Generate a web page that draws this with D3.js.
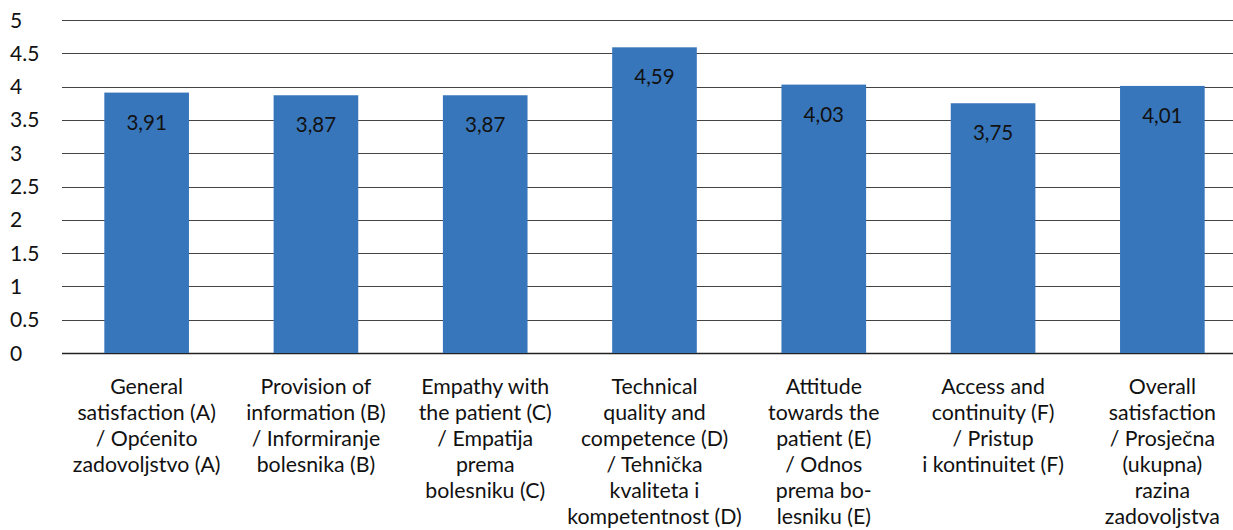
<!DOCTYPE html>
<html>
<head>
<meta charset="utf-8">
<script src="https://cdn.jsdelivr.net/npm/d3@7"></script>
<style>
  html, body { margin: 0; padding: 0; background: #fff; }
  svg { display: block; font-family: Lato, "Open Sans", sans-serif; }
</style>
</head>
<body>
<svg id="chart" width="1233" height="530"></svg>
<script>
// Satisfaction dimensions, each label split into its printed lines
const categories = [
  ["General", "satisfaction (A)", "/ Općenito", "zadovoljstvo (A)"],
  ["Provision of", "information (B)", "/ Informiranje", "bolesnika (B)"],
  ["Empathy with", "the patient (C)", "/ Empatija", "prema", "bolesniku (C)"],
  ["Technical", "quality and", "competence (D)", "/ Tehnička", "kvaliteta i", "kompetentnost (D)"],
  ["Attitude", "towards the", "patient (E)", "/ Odnos", "prema bo-", "lesniku (E)"],
  ["Access and", "continuity (F)", "/ Pristup", "i kontinuitet (F)"],
  ["Overall", "satisfaction", "/ Prosječna", "(ukupna)", "razina", "zadovoljstva"]
];
const values = [3.91, 3.87, 3.87, 4.59, 4.03, 3.75, 4.01];
const yTicks = [0, 0.5, 1, 1.5, 2, 2.5, 3, 3.5, 4, 4.5, 5];

const svg = d3.select("#chart");
const plot = { left: 62, right: 1247, top: 20, bottom: 353 };

const x = d3.scaleBand()
  .domain(d3.range(categories.length))
  .range([plot.left, plot.right])
  .paddingInner(0.5)
  .paddingOuter(0.25);

const y = d3.scaleLinear().domain([0, 5]).range([plot.bottom, plot.top]);

// horizontal gridlines
svg.append("g")
  .selectAll("line")
  .data(yTicks)
  .join("line")
  .attr("x1", plot.left)
  .attr("x2", 1233)
  .attr("y1", d => Math.round(y(d)) + 0.5)
  .attr("y2", d => Math.round(y(d)) + 0.5)
  .attr("stroke", d => d === 0 ? "#222" : "#444")
  .attr("stroke-width", d => d === 0 ? 1.5 : 1);

// y tick labels, left aligned
const fmtTick = d => String(d);
svg.append("g")
  .selectAll("text")
  .data(yTicks)
  .join("text")
  .attr("x", 10)
  .attr("y", d => y(d) + 7.5)
  .attr("font-size", 21)
  .attr("fill", "#111")
  .text(fmtTick);

// bars
svg.append("g")
  .selectAll("rect")
  .data(values)
  .join("rect")
  .attr("x", (d, i) => x(i))
  .attr("width", x.bandwidth())
  .attr("y", d => y(d))
  .attr("height", d => y(0) - y(d))
  .attr("fill", "#3876bb");

// value labels inside bars, decimal comma
const fmtVal = d => d.toFixed(2).replace(".", ",");
svg.append("g")
  .selectAll("text")
  .data(values)
  .join("text")
  .attr("x", (d, i) => x(i) + x.bandwidth() / 2)
  .attr("y", d => y(d) + 37)
  .attr("text-anchor", "middle")
  .attr("font-size", 20.5)
  .attr("fill", "#111")
  .text(fmtVal);

// category labels below axis
const catG = svg.append("g")
  .selectAll("text")
  .data(categories)
  .join("text")
  .attr("text-anchor", "middle")
  .attr("font-size", 21.3)
  .attr("fill", "#111");

catG.selectAll("tspan")
  .data((lines, i) => lines.map(l => ({ l, i })))
  .join("tspan")
  .attr("x", d => x(d.i) + x.bandwidth() / 2)
  .attr("y", (d, j) => 394 + j * 26)
  .text(d => d.l);
</script>
</body>
</html>
